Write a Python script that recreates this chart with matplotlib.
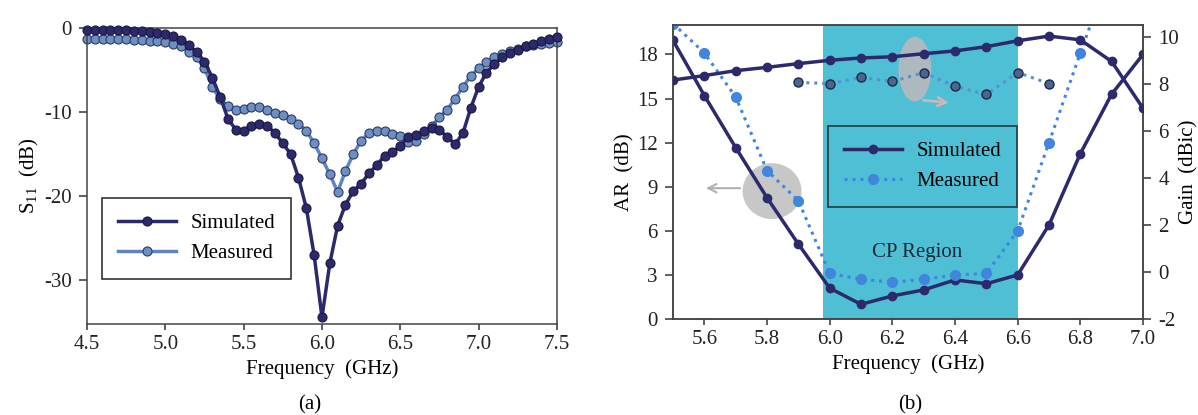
import numpy as np
import matplotlib.pyplot as plt
from matplotlib.patches import Ellipse

plt.rcParams['font.family'] = ['Liberation Serif', 'DejaVu Serif']
plt.rcParams['mathtext.default'] = 'regular'
plt.rcParams['axes.unicode_minus'] = False
plt.rcParams['font.size'] = 15

# (a) S11 - barrido de frecuencia
freq_a = np.round(np.arange(4.5, 7.5001, 0.05), 2)
s11_sim = [-0.2, -0.2, -0.25, -0.25, -0.3, -0.3, -0.35, -0.4, -0.45, -0.55,
           -0.7, -0.9, -1.4, -2.0, -2.9, -4.0, -5.9, -8.2, -10.8, -12.1,
           -12.2, -11.6, -11.4, -11.6, -12.5, -13.7, -15.0, -17.8, -21.4, -27.0,
           -34.4, -28.0, -23.5, -21.0, -19.4, -18.5, -17.3, -16.3, -15.2, -14.8,
           -14.0, -13.0, -12.7, -12.3, -11.9, -12.1, -13.0, -13.8, -12.5, -9.5,
           -7.0, -5.3, -4.3, -3.5, -3.0, -2.6, -2.2, -1.9, -1.6, -1.3, -1.1]
s11_meas = [-1.3, -1.3, -1.3, -1.3, -1.35, -1.35, -1.4, -1.4, -1.5, -1.6,
            -1.7, -1.9, -2.2, -2.8, -3.5, -4.8, -7.0, -8.5, -9.3, -9.7,
            -9.6, -9.4, -9.4, -9.8, -10.1, -10.4, -10.8, -11.4, -12.2, -13.7,
            -15.5, -17.4, -19.5, -17.0, -15.0, -13.4, -12.5, -12.3, -12.3, -12.6,
            -12.9, -13.5, -13.4, -12.6, -11.7, -10.6, -9.7, -8.4, -7.0, -5.7,
            -4.8, -4.1, -3.5, -3.1, -2.7, -2.5, -2.2, -2.0, -1.9, -1.8, -1.7]

# (b) AR y ganancia
freq_b = [5.5, 5.6, 5.7, 5.8, 5.9, 6.0, 6.1, 6.2, 6.3, 6.4, 6.5, 6.6, 6.7, 6.8, 6.9, 7.0]
ar_sim = [18.95, 15.2, 11.66, 8.25, 5.1, 2.1, 1.0, 1.57, 1.98, 2.66, 2.4, 3.0, 6.4, 11.25, 15.3, 18.0]
freq_ar_meas = [5.5, 5.6, 5.7, 5.8, 5.9, 6.0, 6.1, 6.2, 6.3, 6.4, 6.5, 6.6, 6.7, 6.8, 6.9]
ar_meas = [20.1, 18.1, 15.1, 10.1, 8.05, 3.1, 2.7, 2.5, 2.7, 3.0, 3.1, 6.0, 12.0, 18.1, 24.0]
gain_sim = [8.16, 8.35, 8.56, 8.7, 8.86, 9.0, 9.1, 9.15, 9.28, 9.4, 9.58, 9.83, 10.03, 9.87, 8.95, 6.96]
freq_gain_meas = [5.9, 6.0, 6.1, 6.2, 6.3, 6.4, 6.5, 6.6, 6.7]
gain_meas = [8.06, 8.01, 8.27, 8.1, 8.48, 7.89, 7.55, 8.48, 8.01]
cp_band = (5.98, 6.6)

navy = '#2c2a6c'
steel = '#5f84c4'
blue_m = '#3f86dc'
cyan = '#4ebfd5'

fig = plt.figure(figsize=(11.98, 4.15), dpi=100)

# ---------- (a) ----------
ax1 = fig.add_axes([0.0726, 0.2193, 0.3923, 0.7133])
ax1.plot(freq_a, s11_sim, '-o', color=navy, lw=2.5, ms=6.5,
         mfc=navy, mec='#1a1840', mew=0.8, label='Simulated', clip_on=False, zorder=3)
ax1.plot(freq_a, s11_meas, '-o', color=steel, lw=2.5, ms=6.5,
         mfc='#6e8fc2', mec='#2c3a66', mew=0.8, label='Measured', clip_on=False, zorder=2)
ax1.set_xlim(4.5, 7.5)
ax1.set_ylim(-35.2, 0)
ax1.set_xticks([4.5, 5.0, 5.5, 6.0, 6.5, 7.0, 7.5])
ax1.set_xticklabels(['4.5', '5.0', '5.5', '6.0', '6.5', '7.0', '7.5'])
ax1.set_yticks([0, -10, -20, -30])
ax1.set_xlabel('Frequency  (GHz)', labelpad=4)
ax1.set_ylabel('S$_{11}$  (dB)', labelpad=2)
leg1 = ax1.legend(loc='lower left', bbox_to_anchor=(0.032, 0.152), borderaxespad=0,
                  handlelength=2.8, frameon=True, fancybox=False, edgecolor='black',
                  borderpad=0.75, labelspacing=0.5, handletextpad=0.7, fontsize=15)
leg1.get_frame().set_linewidth(1.2)

# ---------- (b) ----------
ax2 = fig.add_axes([0.5618, 0.2313, 0.3923, 0.7084])
ax3 = ax2.twinx()
ax2.axvspan(cp_band[0], cp_band[1], color=cyan, zorder=0, lw=0)
ax2.add_patch(Ellipse((5.816, 8.7), 0.188, 3.8, color='#b9b9b9', alpha=0.8, lw=0, zorder=1))
ax2.annotate('', xy=(5.596, 8.9), xytext=(5.723, 8.9),
             arrowprops=dict(arrowstyle='->', color='#b0b0b0', lw=1.5), zorder=1)
ax2.add_patch(Ellipse((6.272, 17.0), 0.105, 4.4, color='#cdb8b8', alpha=0.75, lw=0, zorder=1))
ax2.annotate('', xy=(6.39, 14.7), xytext=(6.29, 14.9),
             arrowprops=dict(arrowstyle='->', color='#c8b8b8', lw=2), zorder=1)

ax2.plot(freq_b, ar_sim, '-o', color=navy, lw=2.5, ms=6, mfc=navy, mec=navy,
         label='Simulated', zorder=3)
ax2.plot(freq_ar_meas, ar_meas, linestyle=(0, (1, 1.6)), marker='o', color=blue_m,
         lw=2.2, ms=7, mfc=blue_m, mec=blue_m, label='Measured', zorder=3)
ax3.plot(freq_b, gain_sim, '-o', color=navy, lw=2.5, ms=6, mfc=navy, mec=navy, zorder=3)
ax3.plot(freq_gain_meas, gain_meas, linestyle=(0, (1, 1.6)), marker='o', color='#5a8fd0',
         lw=2.2, ms=6.5, mfc='#4a6690', mec='#1e2848', mew=1, zorder=3)

ax2.set_xlim(5.5, 7.0)
ax2.set_ylim(0, 20)
ax3.set_ylim(-2, 10.5)
ax2.set_xticks([5.6, 5.8, 6.0, 6.2, 6.4, 6.6, 6.8, 7.0])
ax2.set_xticklabels(['5.6', '5.8', '6.0', '6.2', '6.4', '6.6', '6.8', '7.0'])
ax2.set_yticks([0, 3, 6, 9, 12, 15, 18])
ax3.set_yticks([-2, 0, 2, 4, 6, 8, 10])
ax2.set_xlabel('Frequency  (GHz)', labelpad=4)
ax2.set_ylabel('AR  (dB)', labelpad=2)
ax3.set_ylabel('Gain  (dBic)', labelpad=0)
ax2.text(6.279, 4.5, 'CP Region', ha='center', va='center', fontsize=15, color='#1a2a3a')
leg2 = ax2.legend(loc='upper left', bbox_to_anchor=(0.33, 0.656), borderaxespad=0,
                  handlelength=2.8, frameon=True, fancybox=False, edgecolor='#1a1a1a',
                  borderpad=0.75, labelspacing=0.5, handletextpad=0.7, fontsize=15)
leg2.get_frame().set_facecolor('none')
leg2.get_frame().set_linewidth(1.2)

for ax in (ax1, ax2, ax3):
    ax.tick_params(direction='out', width=1.1, colors='#333333', labelcolor='#222222')
    ax.tick_params(axis='x', length=4.5, pad=3.5)
    ax.tick_params(axis='y', length=5.5, pad=5.5)
    for sp in ax.spines.values():
        sp.set_color('#444444')
        sp.set_linewidth(1.1)

fig.text(310 / 1198, 1 - 405 / 415, '(a)', ha='center', va='center', fontsize=15)
fig.text(910 / 1198, 1 - 405 / 415, '(b)', ha='center', va='center', fontsize=15)

fig.savefig('out.png', dpi=100)
